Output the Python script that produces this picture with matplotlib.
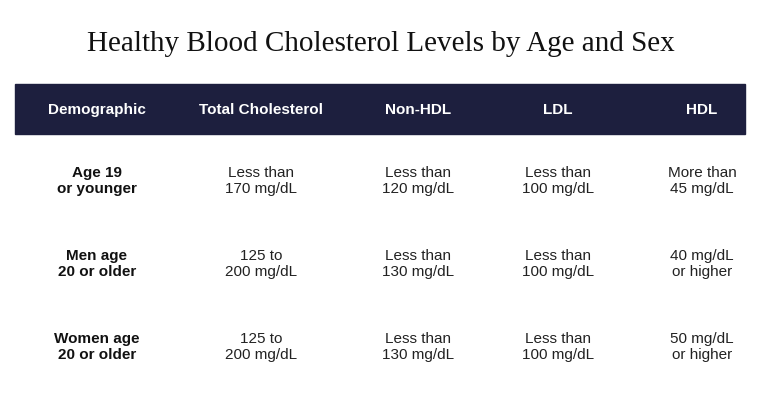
import matplotlib.pyplot as plt
from matplotlib.patches import Rectangle

title = "Healthy Blood Cholesterol Levels by Age and Sex"
columns = ["Demographic", "Total Cholesterol", "Non-HDL", "LDL", "HDL"]
demographics = ["Age 19\nor younger", "Men age\n20 or older", "Women age\n20 or older"]
total_chol = ["Less than\n170 mg/dL", "125 to\n200 mg/dL", "125 to\n200 mg/dL"]
non_hdl = ["Less than\n120 mg/dL", "Less than\n130 mg/dL", "Less than\n130 mg/dL"]
ldl = ["Less than\n100 mg/dL", "Less than\n100 mg/dL", "Less than\n100 mg/dL"]
hdl = ["More than\n45 mg/dL", "40 mg/dL\nor higher", "50 mg/dL\nor higher"]

W, H = 760, 400
col_x = [97, 261, 418, 558, 702]
row_y = [181, 264, 347]
sans = "Liberation Sans"

fig = plt.figure(figsize=(W / 100, H / 100), dpi=100)
ax = fig.add_axes([0, 0, 1, 1])
ax.set_xlim(0, W)
ax.set_ylim(H, 0)
ax.axis("off")

ax.text(381, 44, title, ha="center", va="center", fontsize=21,
        family="Liberation Serif", color="#111111")
ax.add_patch(Rectangle((15, 84), 730, 50, color="#1d1f3e"))
for x, c in zip(col_x, columns):
    ax.text(x, 110, c, ha="center", va="center", fontsize=11,
            fontweight="bold", color="white", family=sans)

for i, y in enumerate(row_y):
    ax.text(col_x[0], y, demographics[i], ha="center", va="center", family=sans,
            fontsize=11, fontweight="bold", color="#111111", linespacing=1.25)
    for x, col in zip(col_x[1:], [total_chol, non_hdl, ldl, hdl]):
        ax.text(x, y, col[i], ha="center", va="center", fontsize=11,
                family=sans, color="#222222", linespacing=1.25)

fig.savefig("out.png", dpi=100)
